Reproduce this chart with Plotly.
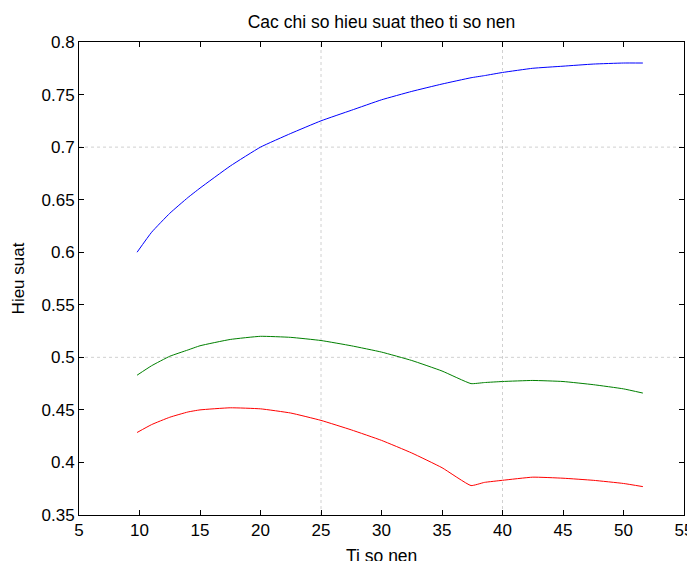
import plotly.graph_objects as go

ti_so_nen = [9.8, 11, 12.5, 14, 15, 17.5, 20, 22.5, 25, 27.5, 30, 32.5, 35, 37.4,
             38.5, 40, 42.5, 45, 47.5, 50, 51.6]
hieu_suat_xanh = [0.600, 0.619, 0.637, 0.652, 0.661, 0.682, 0.700, 0.713, 0.725, 0.735,
                  0.745, 0.753, 0.760, 0.766, 0.768, 0.771, 0.775, 0.777, 0.779, 0.780, 0.780]
hieu_suat_luc = [0.483, 0.492, 0.501, 0.507, 0.511, 0.517, 0.520, 0.519, 0.516, 0.511,
                 0.505, 0.497, 0.487, 0.475, 0.476, 0.477, 0.478, 0.477, 0.474, 0.470, 0.466]
hieu_suat_do = [0.4285, 0.436, 0.443, 0.448, 0.450, 0.452, 0.451, 0.447, 0.440, 0.431,
                0.421, 0.409, 0.395, 0.378, 0.381, 0.383, 0.386, 0.385, 0.383, 0.380, 0.377]

x_ticks = [5, 10, 15, 20, 25, 30, 35, 40, 45, 50, 55]
y_ticks = [0.35, 0.4, 0.45, 0.5, 0.55, 0.6, 0.65, 0.7, 0.75, 0.8]
y_tick_text = ["0.35", "0.4", "0.45", "0.5", "0.55", "0.6", "0.65", "0.7", "0.75", "0.8"]
grid_x = [25, 40]
grid_y = [0.5, 0.7]

fig = go.Figure()
for ys, col in [(hieu_suat_xanh, "#0000FF"), (hieu_suat_luc, "#008000"), (hieu_suat_do, "#FF0000")]:
    fig.add_trace(go.Scatter(x=ti_so_nen, y=ys, mode="lines",
                             line=dict(color=col, width=1, shape="spline", smoothing=0.4),
                             showlegend=False))

shapes = []
for gx in grid_x:
    shapes.append(dict(type="line", xref="x", yref="paper", x0=gx, x1=gx, y0=0, y1=1,
                       line=dict(color="#D0D0D0", width=1, dash="dot"), layer="below"))
for gy in grid_y:
    shapes.append(dict(type="line", xref="paper", yref="y", x0=0, x1=1, y0=gy, y1=gy,
                       line=dict(color="#D0D0D0", width=1, dash="dot"), layer="below"))

# page body has an 8px margin, so the figure is sized to the visible area
W, H = 687, 553
T, B = 34, 46
PH = H - T - B
font = dict(family="Liberation Sans, Arial, sans-serif", size=17, color="black")
fig.update_layout(
    width=W, height=H,
    margin=dict(l=71, r=11, t=T, b=B),
    paper_bgcolor="white", plot_bgcolor="white",
    font=font,
    title=dict(text="Cac chi so hieu suat theo ti so nen", x=(71 + 676) / 2 / W,
               xanchor="center", y=1 - 14 / H, yanchor="middle",
               font=dict(size=17.5), automargin=False),
    shapes=shapes,
    annotations=[dict(text="Ti so nen", xref="paper", yref="paper", x=0.5, y=-41 / PH,
                      xanchor="center", yanchor="middle", showarrow=False,
                      font=dict(size=17.5))],
    xaxis=dict(range=[5, 55], tickvals=x_ticks, showgrid=False, zeroline=False,
               showline=True, linecolor="black", linewidth=1, mirror="ticks",
               ticks="inside", ticklen=5, tickcolor="black", automargin=False),
    yaxis=dict(range=[0.35, 0.8], tickvals=y_ticks, ticktext=y_tick_text,
               showgrid=False, zeroline=False, automargin=False,
               showline=True, linecolor="black", linewidth=1, mirror="ticks",
               ticks="inside", ticklen=5, tickcolor="black",
               title=dict(text="Hieu suat", standoff=12, font=dict(size=17))),
)
fig.write_html("out.html")
